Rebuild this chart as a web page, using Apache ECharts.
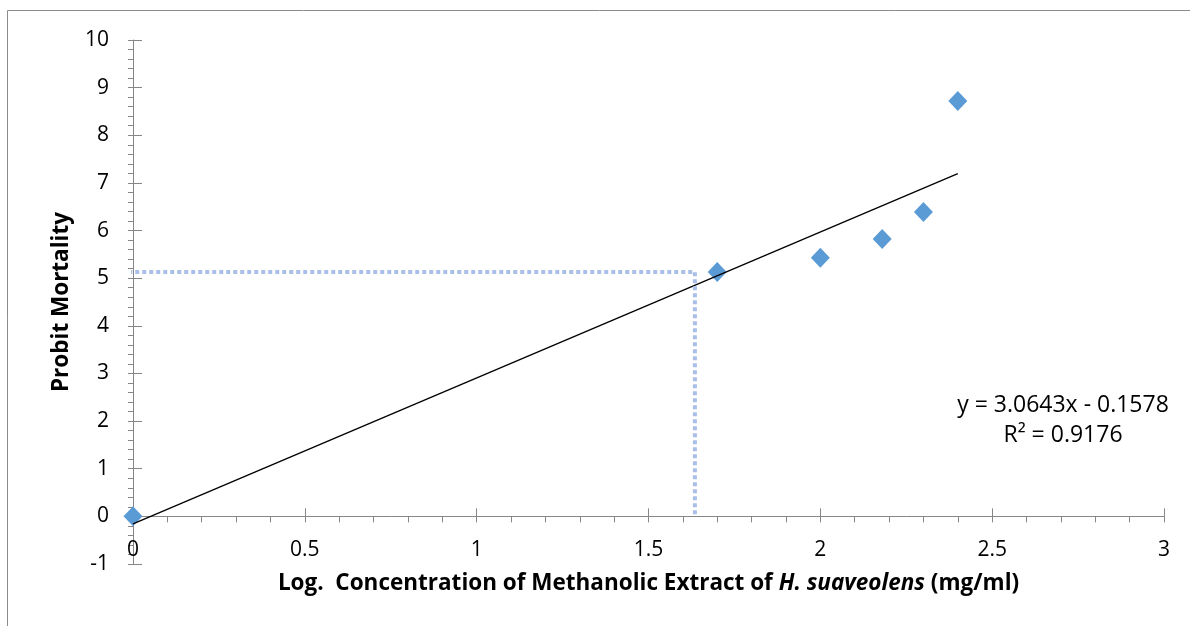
<!DOCTYPE html>
<html>
<head>
<meta charset="utf-8">
<script src="https://cdn.jsdelivr.net/npm/echarts@6/dist/echarts.min.js"></script>
<style>
  html, body { margin: 0; padding: 0; background: #ffffff; }
  #chart { width: 1190px; height: 626px; }
</style>
</head>
<body>
<div id="chart"></div>
<script>
// Log concentration vs probit mortality
const logConc = [0, 1.7, 2.0, 2.18, 2.3, 2.4];
const probit  = [0, 5.13, 5.43, 5.82, 6.39, 8.72];

// Linear fit reported on the chart
const SLOPE = 3.0643;
const INTERCEPT = -0.1578;
const R2 = 0.9176;
const fitRange = [0, 2.4];

// LC50 read-off guide (probit 5 crossing); it starts a little left of the y axis
const guideStartX = -0.075;
const guideX = 1.635;
const guideY = 5.13;

const FONT = '"Open Sans"';
const AXIS_GREY = '#868686';

const points = logConc.map((x, i) => [x, probit[i]]);
const fitLine = fitRange.map(x => [x, SLOPE * x + INTERCEPT]);
const guide = [[guideStartX, guideY], [guideX, guideY], [guideX, 0]];

const fmt = v => (v < 0 ? ' - ' : ' + ') + Math.abs(v).toFixed(4);

const chart = echarts.init(document.getElementById('chart'), null, { renderer: 'canvas' });

const baseX = { type: 'value', min: 0, max: 3, interval: 0.5 };
const baseY = { type: 'value', min: -1, max: 10, interval: 1 };

chart.setOption({
  animation: false,
  backgroundColor: '#ffffff',
  grid: { left: 133, right: 26, top: 40, bottom: 62, outerBoundsMode: 'none', containLabel: false },
  xAxis: [
    Object.assign({}, baseX, {
      position: 'bottom',
      name: '{b|Log.  Concentration of Methanolic Extract of }{i|H. suaveolens}{b| (mg/ml)}',
      nameLocation: 'middle',
      nameGap: 8,
      nameMoveOverlap: false,
      nameTextStyle: {
        rich: {
          b: { fontFamily: FONT, fontSize: 22.5, fontWeight: 'bold', color: '#000' },
          i: { fontFamily: FONT, fontSize: 22.5, fontWeight: 'bold', fontStyle: 'italic', color: '#000' }
        }
      },
      axisLine: { onZero: true, lineStyle: { color: AXIS_GREY, width: 1 } },
      axisTick: { show: true, inside: false, length: 6, lineStyle: { color: AXIS_GREY } },
      minorTick: { show: true, splitNumber: 5, length: 6, lineStyle: { color: AXIS_GREY } },
      // labels sit relative to the grid's bottom edge, just above it
      axisLabel: { fontFamily: FONT, fontSize: 21, color: '#000', margin: -24,
        formatter: v => String(v) },
      splitLine: { show: false }
    }),
    // upper half of the crossing major ticks
    Object.assign({}, baseX, {
      position: 'top',
      axisLine: { show: false, onZero: true, onZeroAxisIndex: 0 },
      axisTick: { show: true, inside: false, length: 8, lineStyle: { color: AXIS_GREY } },
      axisLabel: { show: false },
      splitLine: { show: false }
    })
  ],
  yAxis: [
    Object.assign({}, baseY, {
      position: 'left',
      name: 'Probit Mortality',
      nameLocation: 'middle',
      nameGap: 60,
      nameMoveOverlap: false,
      nameRotate: 90,
      nameTextStyle: { fontFamily: FONT, fontSize: 22.5, fontWeight: 'bold', color: '#000' },
      axisLine: { show: true, onZero: true, lineStyle: { color: AXIS_GREY, width: 1 } },
      axisTick: { show: true, inside: false, length: 5, lineStyle: { color: AXIS_GREY } },
      minorTick: { show: true, splitNumber: 5, length: 5, lineStyle: { color: AXIS_GREY } },
      axisLabel: { fontFamily: FONT, fontSize: 21, color: '#000', margin: 24 },
      splitLine: { show: false }
    }),
    // right half of the crossing major ticks
    Object.assign({}, baseY, {
      position: 'right',
      axisLine: { show: false, onZero: true, onZeroAxisIndex: 0 },
      axisTick: { show: true, inside: false, length: 9, lineStyle: { color: AXIS_GREY } },
      axisLabel: { show: false },
      splitLine: { show: false }
    })
  ],
  series: [
    {
      name: 'LC50 guide',
      type: 'line',
      data: guide,
      symbol: 'none',
      silent: true,
      clip: false,
      lineStyle: { color: '#A9BFE8', width: 4, type: [4, 3], cap: 'butt' },
      z: 5
    },
    {
      name: 'Probit mortality',
      type: 'scatter',
      data: points,
      symbol: 'diamond',
      symbolSize: [19, 20],
      itemStyle: { color: '#5B9BD5', opacity: 1 },
      z: 3
    },
    {
      name: 'Linear fit',
      type: 'line',
      data: fitLine,
      symbol: 'none',
      lineStyle: { color: '#000000', width: 1.3 },
      z: 4
    }
  ],
  graphic: [
    {
      type: 'rect',
      shape: { x: 7.5, y: 10.5, width: 1300, height: 800 },
      style: { fill: 'none', stroke: '#8c8c8c', lineWidth: 1 },
      silent: true,
      z: -10
    },
    {
      type: 'text',
      x: 1063, y: 390,
      style: {
        text: 'y = ' + SLOPE.toFixed(4) + 'x' + fmt(INTERCEPT) + '\nR² = ' + R2.toFixed(4),
        align: 'center',
        verticalAlign: 'top',
        lineHeight: 30,
        font: '23px ' + FONT,
        fill: '#000'
      }
    }
  ]
});
</script>
</body>
</html>
